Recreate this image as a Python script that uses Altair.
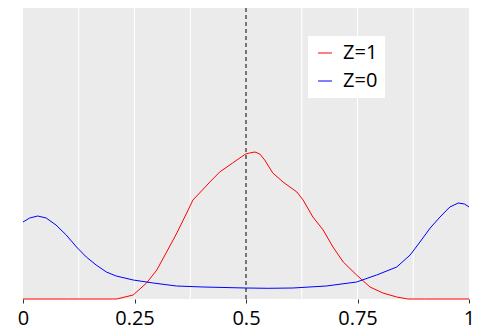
import altair as alt
import pandas as pd

# Z=1 (red) density
red_x = [0, 0.1, 0.2, 0.21, 0.247, 0.277, 0.30, 0.322, 0.345, 0.367, 0.381, 0.396, 0.419, 0.441,
         0.47, 0.499, 0.508, 0.52, 0.531, 0.542, 0.56, 0.583, 0.614, 0.628, 0.65, 0.673, 0.695,
         0.718, 0.748, 0.778, 0.807, 0.838, 0.863, 0.9, 1.0]
red_y = [0, 0, 0, 0, 0.04, 0.16, 0.29, 0.47, 0.66, 0.86, 0.99, 1.06, 1.17, 1.27,
         1.36, 1.45, 1.46, 1.47, 1.45, 1.39, 1.26, 1.17, 1.07, 0.99, 0.82, 0.69, 0.52,
         0.37, 0.24, 0.12, 0.06, 0.02, 0, 0, 0]

# Z=0 (blue) density
blue_x = [0, 0.015, 0.033, 0.052, 0.074, 0.097, 0.12, 0.142, 0.164, 0.187, 0.209, 0.247, 0.292,
          0.344, 0.404, 0.5, 0.55, 0.605, 0.68, 0.748, 0.793, 0.838, 0.868, 0.89, 0.913, 0.935,
          0.957, 0.976, 0.99, 1.0]
blue_y = [0.77, 0.81, 0.83, 0.81, 0.74, 0.64, 0.52, 0.42, 0.34, 0.27, 0.23, 0.19, 0.16,
          0.13, 0.12, 0.11, 0.107, 0.11, 0.13, 0.17, 0.24, 0.32, 0.44, 0.57, 0.71, 0.82,
          0.92, 0.96, 0.95, 0.92]

x_ticks = [0, 0.25, 0.5, 0.75, 1]
grid_x = [0.125, 0.25, 0.375, 0.625, 0.75, 0.875]
cutoff = [0.5]
series_names = ["Z=1", "Z=0"]
series_colors = ["#FF0000", "#0000FF"]

df = pd.concat([
    pd.DataFrame({"x": red_x, "y": red_y, "series": "Z=1"}),
    pd.DataFrame({"x": blue_x, "y": blue_y, "series": "Z=0"}),
])

FONT = "Open Sans"
xs = alt.Scale(domain=[0, 1], nice=False, zero=False)
ys = alt.Scale(domain=[0, 2.91], nice=False)

x_axis = alt.Axis(values=x_ticks, title=None, grid=False, domain=False,
                  ticks=True, tickSize=4, tickColor="#333333",
                  labelFontSize=20, labelFont=FONT, labelColor="black",
                  labelPadding=5, labelFlush=False,
                  labelExpr="datum.value == 0 ? '0' : datum.value == 1 ? '1' : format(datum.value, '.2~f')")

grid = alt.Chart(pd.DataFrame({"g": grid_x})).mark_rule(color="white", strokeWidth=1).encode(
    x=alt.X("g:Q", scale=xs, axis=x_axis)
)

lines = alt.Chart(df).mark_line(strokeWidth=1, interpolate="linear").encode(
    x=alt.X("x:Q", scale=xs, axis=x_axis),
    y=alt.Y("y:Q", scale=ys, axis=None),
    color=alt.Color("series:N", scale=alt.Scale(domain=series_names, range=series_colors),
                    legend=alt.Legend(title=None, orient="none", legendX=285, legendY=28,
                                      symbolType="stroke", symbolSize=196, symbolStrokeWidth=1,
                                      labelFontSize=20, labelFont=FONT, labelColor="black",
                                      fillColor="white", padding=7, rowPadding=8,
                                      labelOffset=8)),
    detail="series:N",
)

vline = alt.Chart(pd.DataFrame({"c": cutoff})).mark_rule(color="black", strokeWidth=1,
                                                         strokeDash=[4, 3]).encode(
    x=alt.X("c:Q", scale=xs, axis=x_axis)
)

chart = alt.layer(grid, lines, vline).properties(
    width=446, height=291,
    autosize=alt.AutoSizeParams(type="none"),
    padding={"left": 15, "top": 0, "right": 20, "bottom": 33},
).configure_view(fill="#EBEBEB", stroke=None)

chart.save("out.html", embed_options={"renderer": "svg", "actions": False})
